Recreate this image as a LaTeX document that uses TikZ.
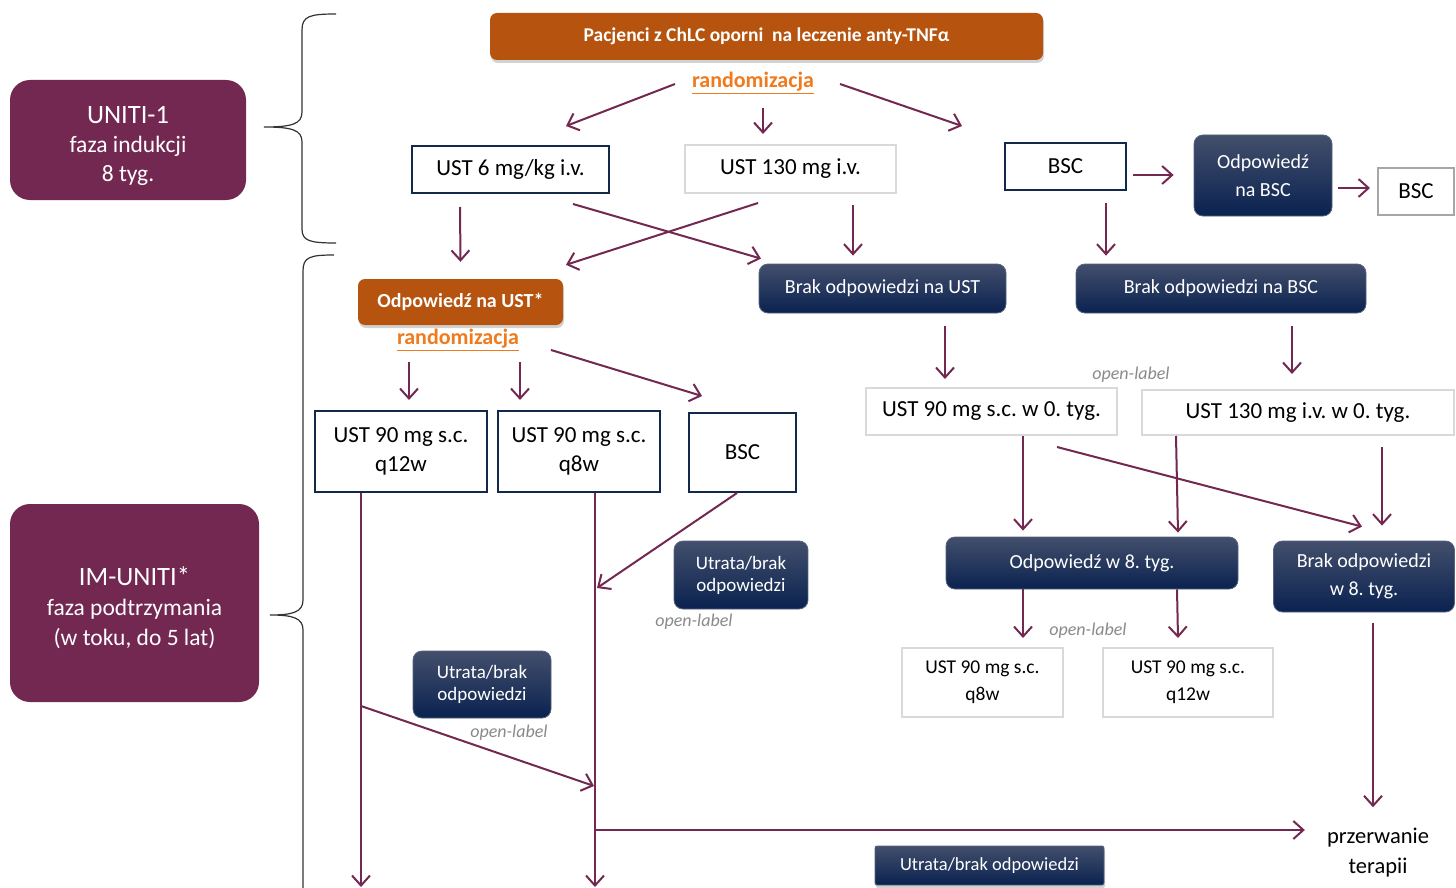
\documentclass[tikz,border=0pt]{standalone}
\usepackage{fontspec}
\setmainfont{Carlito}
\usetikzlibrary{arrows.meta,shadows}

\definecolor{plum}{HTML}{722850}
\definecolor{rust}{HTML}{B5530F}
\definecolor{tangerine}{HTML}{F07A1C}
\definecolor{navy}{HTML}{0A2250}
\definecolor{navytop}{HTML}{434F6C}
\definecolor{navyedge}{HTML}{56637E}
\definecolor{navyline}{HTML}{13294B}
\definecolor{paleline}{HTML}{D9D9D9}
\definecolor{midline}{HTML}{A6A6A6}
\definecolor{olgrey}{HTML}{8A8A8A}

\newcommand{\fsz}[2]{\fontsize{#1}{#2}\selectfont}
\frenchspacing

\begin{document}
\begin{tikzpicture}[x=1pt, y=-1pt,
  phase/.style={fill=plum, rounded corners=20pt, text=white, align=center, inner sep=0pt},
  rustbox/.style={fill=rust, rounded corners=7pt, text=white, align=center, inner sep=0pt,
    font=\bfseries\fsz{19.5}{22}, drop shadow={shadow xshift=1pt, shadow yshift=-3pt, opacity=0.35}},
  navybox/.style={draw=navyedge, line width=0.8pt, rounded corners=9pt, top color=navytop,
    middle color=navy, bottom color=navy, text=white, align=center, inner sep=0pt, font=\fsz{20}{28}},
  navyframe/.style={draw=navyline, line width=2pt, fill=white, align=center, inner sep=0pt, font=\fsz{23}{29}},
  paleframe/.style={draw=paleline, line width=2pt, fill=white, align=center, inner sep=0pt, font=\fsz{23}{29}},
  randlbl/.style={text=tangerine, font=\bfseries\fsz{22}{24}},
  openlbl/.style={text=olgrey, font=\itshape\fsz{18}{20}},
  arr/.style={draw=plum, line width=2pt, -{Straight Barb[length=10pt, width=18pt]}},
  brace/.style={draw=black!80, line width=1.2pt}]
  \fill[white] (0,0) rectangle (1456,888);
  \useasboundingbox (0,0) rectangle (1456,888);

  \draw[brace] (336,14) .. controls (310,14) and (302,16) .. (302,30) -- (302,112)
    .. controls (302,124) and (292,127) .. (264,127) .. controls (292,127) and (302,130) .. (302,142)
    -- (302,229) .. controls (302,241) and (310,243) .. (336,243);
  \draw[brace] (334,255) .. controls (310,255) and (303,257) .. (303,271) -- (303,600)
    .. controls (303,612) and (293,615) .. (270,615) .. controls (293,615) and (303,618) .. (303,630)
    -- (303,890);

  \node[phase, minimum width=236pt, minimum height=120pt, font=\fsz{23.5}{29}] (uniti) at (128,140)
    {\rule{0pt}{29pt}{\fsz{26.5}{29}UNITI-1}\\faza indukcji\\8 tyg.};
  \node[phase, minimum width=249pt, minimum height=198pt, font=\fsz{23.5}{30}] (imuniti) at (134.5,603)
    {\rule{0pt}{29pt}{\fsz{26.5}{30}IM-UNITI*}\\faza podtrzymania\\(w toku, do 5 lat)};

  \node[rustbox, minimum width=553pt, minimum height=47pt] (pacjenci) at (766.5,36.5)
    {Pacjenci z ChLC oporni\ \ na leczenie anty-TNFα};
  \node[randlbl] (rand1) at (753,83) {\underline{randomizacja}};
  \node[navyframe, minimum width=197pt, minimum height=47pt] (ust6) at (510.5,169.5) {UST 6 mg/kg i.v.};
  \node[paleframe, minimum width=211pt, minimum height=48pt] (ust130) at (790.5,169) {UST 130 mg i.v.};
  \node[navyframe, minimum width=121pt, minimum height=47pt] (bsc1) at (1065.5,166.5) {BSC};
  \node[navybox, minimum width=138pt, minimum height=81pt] (odpbsc) at (1263,175.5) {Odpowiedź\\na BSC};
  \node[paleframe, draw=midline, minimum width=76pt, minimum height=47pt] (bsc2) at (1416,191) {BSC};
  \node[navybox, minimum width=290pt, minimum height=49pt] (brakbsc) at (1221,288.5) {Brak odpowiedzi na BSC};
  \node[navybox, minimum width=247pt, minimum height=49pt] (brakust) at (882.5,288.5) {Brak odpowiedzi na UST};
  \node[rustbox, minimum width=205pt, minimum height=46pt, font=\bfseries\fsz{20}{22}] (odpust) at (460.5,302) {Odpowiedź na UST*};
  \node[randlbl] (rand2) at (458,340) {\underline{randomizacja}};

  \node[navyframe, minimum width=172pt, minimum height=81pt] (q12a) at (401,451.5) {UST 90 mg s.c.\\q12w};
  \node[navyframe, minimum width=162pt, minimum height=81pt] (q8a) at (579,451.5) {UST 90 mg s.c.\\q8w};
  \node[navyframe, minimum width=107pt, minimum height=79pt] (bsc3) at (742.5,452.5) {BSC};
  \node[navybox, minimum width=134pt, minimum height=68pt, font=\fsz{19}{22}] (utrata1) at (741,575) {Utrata/brak\\odpowiedzi};
  \node[navybox, minimum width=138pt, minimum height=67pt, font=\fsz{19}{22}] (utrata2) at (482,684.5) {Utrata/brak\\odpowiedzi};
  \node[navybox, rounded corners=2pt, minimum width=229pt, minimum height=39pt, font=\fsz{18.5}{22},
    drop shadow={shadow xshift=1pt, shadow yshift=-3pt, opacity=0.35}] (utrata3) at (989.5,865.5) {Utrata/brak odpowiedzi};
  \node[openlbl] (ol1) at (694,622) {open-label};
  \node[openlbl] (ol2) at (509,733) {open-label};
  \node[openlbl] (ol3) at (1131,375) {open-label};
  \node[openlbl] (ol4) at (1088,631) {open-label};
  \node[align=center, inner sep=0pt, font=\fsz{22.5}{30}] (przerw) at (1378,853) {przerwanie\\terapii};

  \node[paleframe, minimum width=251pt, minimum height=47pt] (ust90w0) at (991.5,411.5) {UST 90 mg s.c. w 0. tyg.};
  \node[paleframe, minimum width=312pt, minimum height=45pt] (ust130w0) at (1298,412.5) {UST 130 mg i.v. w 0. tyg.};
  \node[navybox, minimum width=292pt, minimum height=52pt] (odp8) at (1092,563) {Odpowiedź w 8. tyg.};
  \node[navybox, minimum width=181pt, minimum height=71pt] (brak8) at (1364,576.5) {Brak odpowiedzi\\w 8. tyg.};
  \node[paleframe, minimum width=161pt, minimum height=69pt, font=\fsz{19.5}{27}] (q8b) at (982.5,682.5) {UST 90 mg s.c.\\q8w};
  \node[paleframe, minimum width=170pt, minimum height=69pt, font=\fsz{19.5}{27}] (q12b) at (1188,682.5) {UST 90 mg s.c.\\q12w};

  \coordinate (endA) at (361,887);
  \coordinate (endB) at (595,887);
  \coordinate (splitA) at (361,706);
  \coordinate (joinC) at (594,786);
  \coordinate (joinB) at (597,588);
  \coordinate (splitB) at (595,830);

  \draw[arr] ([shift={(-78,1)}]rand1.center) -- ([shift={(55.5,-19)}]ust6.north);
  \draw[arr] ([shift={(10,25)}]rand1.center) -- ([shift={(-27.5,-10)}]ust130.north);
  \draw[arr] ([shift={(87,1)}]rand1.center) -- ([shift={(-103.5,-16)}]bsc1.north);
  \draw[arr] ([shift={(-50.5,13)}]ust6.south) -- ([shift={(0,-17)}]odpust.north);
  \draw[arr] ([shift={(62.5,10)}]ust6.south) -- ([shift={(-121.5,-5)}]brakust.north);
  \draw[arr] ([shift={(-32.5,9)}]ust130.south) -- ([shift={(105.5,-14)}]odpust.north);
  \draw[arr] ([shift={(62.5,11)}]ust130.south) -- ([shift={(-29.5,-8)}]brakust.north);
  \draw[arr] ([shift={(6,8.5)}]bsc1.east) -- ([shift={(-20,-0.5)}]odpbsc.west);
  \draw[arr] ([shift={(6,12.5)}]odpbsc.east) -- ([shift={(-7,-3)}]bsc2.west);
  \draw[arr] ([shift={(40.5,12)}]bsc1.south) -- ([shift={(-115,-8)}]brakbsc.north);

  \draw[arr] ([shift={(-49,22)}]rand2.center) -- ([shift={(8,-10)}]q12a.north);
  \draw[arr] ([shift={(62,22)}]rand2.center) -- ([shift={(-59,-10)}]q8a.north);
  \draw[arr] ([shift={(93,10)}]rand2.center) -- ([shift={(-40.5,-16)}]bsc3.north);
  \draw[arr] (q12a.south -| endA) -- (endA);
  \draw[arr] (q8a.south -| endB) -- (endB);
  \draw[arr] ([shift={(-5.5,0)}]bsc3.south) -- (joinB);
  \draw[arr] (splitA) -- (joinC);
  \draw[arr, shorten >=22pt] (splitB) -- (splitB -| przerw.west);
  \draw[arr] ([shift={(9,11)}]brak8.south) -- ([shift={(-5,-21)}]przerw.north);

  \draw[arr] ([shift={(62.5,13)}]brakust.south) -- ([shift={(-46.5,-8)}]ust90w0.north);
  \draw[arr] ([shift={(71,13)}]brakbsc.south) -- ([shift={(-6,-15)}]ust130w0.north);
  \draw[arr] ([shift={(31.5,0)}]ust90w0.south) -- ([shift={(-69,-6)}]odp8.north);
  \draw[arr] ([shift={(-122,0)}]ust130w0.south) -- ([shift={(86,-4)}]odp8.north);
  \draw[arr] ([shift={(65.5,11)}]ust90w0.south) -- ([shift={(-2,-14)}]brak8.north);
  \draw[arr] ([shift={(84,11)}]ust130w0.south) -- ([shift={(18,-15)}]brak8.north);
  \draw[arr] ([shift={(-69,0)}]odp8.south) -- ([shift={(40.5,-9)}]q8b.north);
  \draw[arr] ([shift={(85,0)}]odp8.south) -- ([shift={(-10,-9)}]q12b.north);
\end{tikzpicture}
\end{document}
